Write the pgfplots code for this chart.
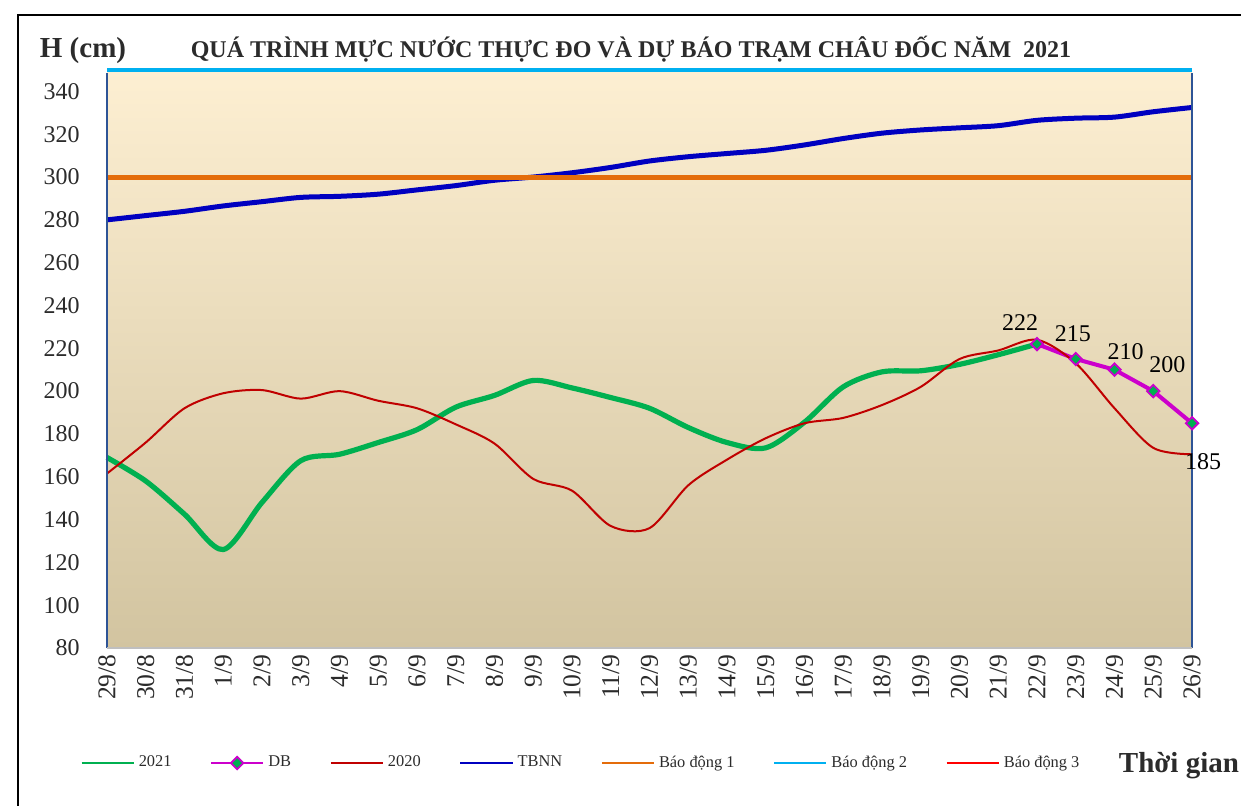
\documentclass[border=0pt]{standalone}
\usepackage{fontspec}
\setmainfont{Liberation Serif}
\usepackage{pgfplots}
\pgfplotsset{compat=1.18}
\definecolor{cgreen}{HTML}{00B050}
\definecolor{cmag}{HTML}{CC00CC}
\definecolor{cred}{HTML}{C00000}
\definecolor{cblue}{HTML}{0000C0}
\definecolor{corange}{HTML}{E46C0A}
\definecolor{ccyan}{HTML}{00B0F0}
\definecolor{cbright}{HTML}{FF0000}
\definecolor{txt}{HTML}{2B2B2B}
\definecolor{bgtop}{HTML}{FDEFD2}
\definecolor{bgmid}{HTML}{F1EAD5}
\definecolor{bgbot}{HTML}{D2C4A0}
\definecolor{axblue}{HTML}{2E5496}
\begin{document}
\begin{tikzpicture}
\useasboundingbox (0pt,0pt) rectangle (620.5pt,-402.5pt);
\draw[black, line width=1.1pt] (9pt,-403pt) -- (9pt,-7.5pt) -- (621pt,-7.5pt);
\node[anchor=base, font=\bfseries\fontsize{14.5}{16}\selectfont, text=txt] at (41.5pt,-28.5pt) {H (cm)};
\node[anchor=base, font=\bfseries\fontsize{12}{14}\selectfont, text=txt] at (315.5pt,-28.5pt) {QUÁ TRÌNH MỰC NƯỚC THỰC ĐO VÀ DỰ BÁO TRẠM CHÂU ĐỐC NĂM~~2021};
\node[anchor=base east, font=\bfseries\fontsize{14.5}{16}\selectfont, text=txt] at (623pt,-386pt) {Thời gian};
\begin{axis}[
  at={(53.5pt,-324pt)}, anchor=south west,
  scale only axis, width=542.5pt, height=289pt,
  xmin=0, xmax=28, ymin=80, ymax=350,
  clip=false,
  axis line style={draw=none},
  major tick length=0pt,
  xtick={0,...,28},
  xticklabels={29/8,30/8,31/8,1/9,2/9,3/9,4/9,5/9,6/9,7/9,8/9,9/9,10/9,11/9,12/9,13/9,14/9,15/9,16/9,17/9,18/9,19/9,20/9,21/9,22/9,23/9,24/9,25/9,26/9},
  ytick={80,100,...,340},
  /pgf/number format/assume math mode=true,
  tick label style={font=\fontsize{12}{14}\selectfont, text=txt},
  yticklabel style={anchor=east, inner sep=0pt, xshift=-13.5pt},
  xticklabel style={yshift=-3pt, rotate=90, anchor=east, inner sep=0pt, font=\fontsize{12.8}{14}\selectfont},
  axis background/.style={top color=bgtop, middle color=bgmid, bottom color=bgbot},
  legend columns=7,
  legend style={draw=none, fill=none, at={(axis description cs:-0.0249,-0.199)}, anchor=west, inner sep=0pt,
    font=\fontsize{8.2}{10}\selectfont, text=txt,
    /tikz/every even column/.append style={column sep=17.2pt}},
  legend image code/.code={\draw[mark repeat=2,mark phase=2,#1] plot coordinates {(0pt,0pt) (13pt,0pt) (26pt,0pt)};},
  legend image post style={line width=1.2pt},
]
\addplot[cgreen, line width=2.6pt, smooth, no marks] coordinates {
(0,169) (1,158) (2,142.5) (3,126) (4,148) (5,167.5) (6,170.5) (7,176) (8,182) (9,192.5) (10,198) (11,205) (12,201.5) (13,197) (14,192) (15,183) (16,176) (17,173.5) (18,185.5) (19,202) (20,209) (21,209.5) (22,212.5) (23,217) (24,222)};
\addlegendentry{2021}
\addplot[cmag, line width=2pt, mark=square*, mark size=2.2pt, mark options={rotate=45, fill=cgreen, draw=cmag, line width=0.9pt}] coordinates {
(24,222) (25,215) (26,210) (27,200) (28,185)};
\addlegendentry{DB}
\addplot[cred, line width=1pt, smooth, no marks] coordinates {
(0,161.5) (1,176) (2,192) (3,199) (4,200.5) (5,196.5) (6,200) (7,195.5) (8,192) (9,184.5) (10,175.5) (11,159) (12,153.5) (13,137) (14,136) (15,156) (16,168) (17,178) (18,185) (19,187.5) (20,193.5) (21,202) (22,215) (23,219) (24,224) (25,213) (26,192) (27,173.5) (28,170.5)};
\addlegendentry{2020}
\addplot[cblue, line width=2.5pt, smooth, no marks] coordinates {
(0,280) (1,282) (2,284) (3,286.5) (4,288.5) (5,290.5) (6,291) (7,292) (8,294) (9,296) (10,298.5) (11,300) (12,302) (13,304.5) (14,307.5) (15,309.5) (16,311) (17,312.5) (18,315) (19,318) (20,320.5) (21,322) (22,323) (23,324) (24,326.5) (25,327.5) (26,328) (27,330.5) (28,332.5)};
\addlegendentry{TBNN}
\addplot[corange, line width=2.5pt, no marks] coordinates {(0,300) (28,300)};
\addlegendentry{Báo động 1}
\addplot[ccyan, line width=2pt, no marks] coordinates {(0,350) (28,350)};
\addlegendentry{Báo động 2}
\addlegendimage{cbright, line width=1.2pt}
\addlegendentry{Báo động 3}
\draw[axblue, line width=1pt] (rel axis cs:0,0) -- (rel axis cs:0,0.995);
\draw[axblue, line width=1pt] (rel axis cs:1,0) -- (rel axis cs:1,0.995);
\draw[gray!50, line width=1pt] (rel axis cs:0,0) -- (rel axis cs:1,0);
\node[font=\fontsize{12}{14}\selectfont, text=black, xshift=-8.5pt, yshift=10.5pt] at (axis cs:24,222) {222};
\node[font=\fontsize{12}{14}\selectfont, text=black, xshift=-1.5pt, yshift=12.5pt] at (axis cs:25,215) {215};
\node[font=\fontsize{12}{14}\selectfont, text=black, xshift=5.5pt, yshift=9pt] at (axis cs:26,210) {210};
\node[font=\fontsize{12}{14}\selectfont, text=black, xshift=7pt, yshift=13pt] at (axis cs:27,200) {200};
\node[font=\fontsize{12}{14}\selectfont, text=black, xshift=5.5pt, yshift=-19pt] at (axis cs:28,185) {185};
\end{axis}
\end{tikzpicture}
\end{document}
